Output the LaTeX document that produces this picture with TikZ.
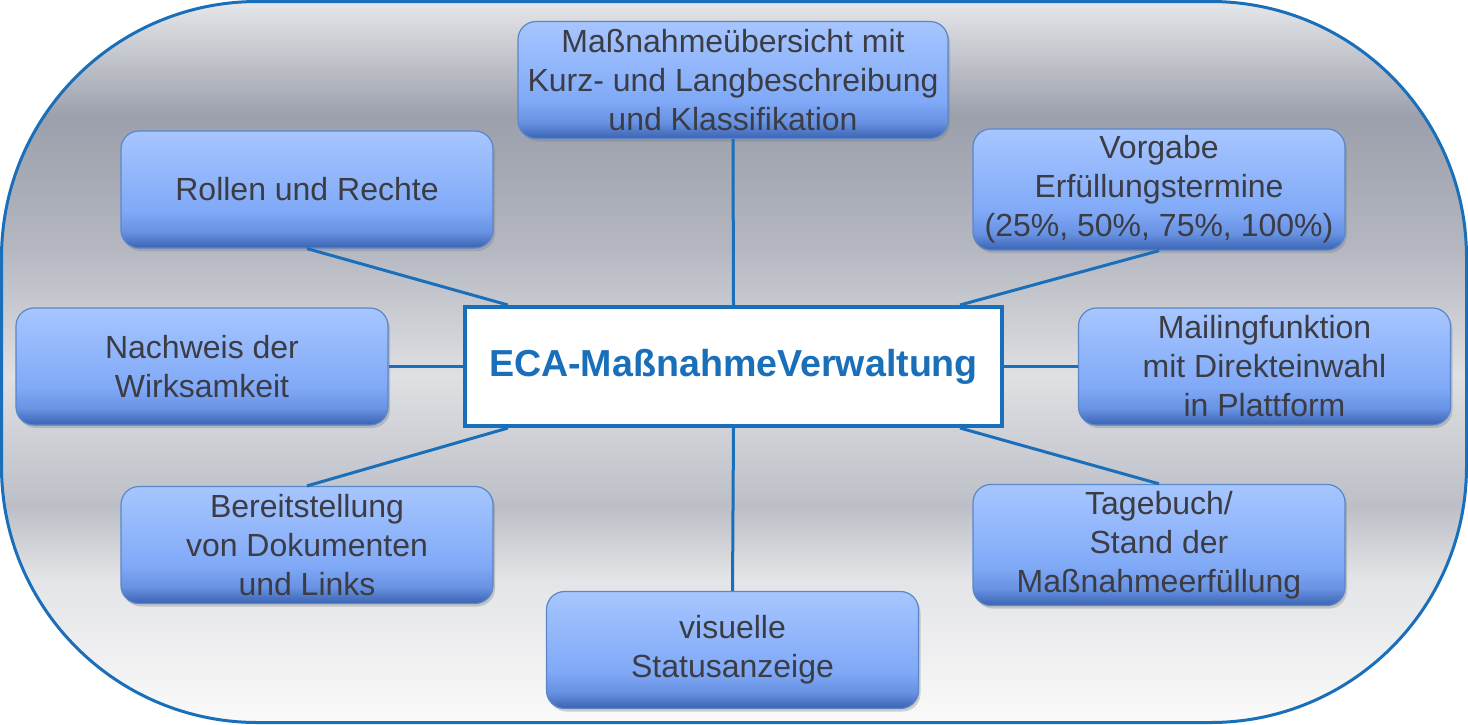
\documentclass[tikz,border=0pt]{standalone}
\usepackage{fontspec}
\setmainfont{Liberation Sans}
\usepackage{xcolor}
\usetikzlibrary{shadows, calc}

\definecolor{ecablue}{HTML}{1A6FBA}
\definecolor{boxedge}{HTML}{5B86C8}
\definecolor{boxtext}{HTML}{3C3C44}
\definecolor{boxtop}{HTML}{A7C6FF}
\definecolor{boxmid}{HTML}{80A9F7}
\definecolor{boxlow}{HTML}{6892E2}
\definecolor{boxbot}{HTML}{3A64B2}
\definecolor{bgA}{HTML}{FAFAFA}
\definecolor{bgB}{HTML}{E3E4E7}
\definecolor{bgC}{HTML}{BCBFC7}
\definecolor{bgD}{HTML}{DFE0E3}
\definecolor{bgE}{HTML}{B4B7C0}
\definecolor{bgF}{HTML}{9CA0AC}
\definecolor{bgG}{HTML}{E6E7EA}

% the path is mapped onto 25bp..75bp of the shading
\pgfdeclareverticalshading{boxshade}{100bp}{color(0bp)=(boxbot); color(25bp)=(boxbot); color(32bp)=(boxlow); color(41bp)=(boxmid); color(75bp)=(boxtop); color(100bp)=(boxtop)}
\pgfdeclareverticalshading{bgshade}{100bp}{color(0bp)=(bgA); color(25bp)=(bgA); color(35bp)=(bgB); color(40bp)=(bgC); color(49bp)=(bgD); color(58bp)=(bgE); color(67bp)=(bgF); color(75bp)=(bgG); color(100bp)=(bgG)}

\begin{document}
\begin{tikzpicture}[
        x=0.5pt, y=-0.5pt,
        frame/.style={draw=ecablue, line width=1.5pt, rounded corners=128pt, shading=bgshade},
        topic/.style={rectangle, rounded corners=9pt, draw=boxedge, line width=0.6pt, shading=boxshade,
            minimum width=186pt, minimum height=58.5pt, align=center, text=boxtext,
            font=\fontsize{16pt}{19.5pt}\selectfont,
            drop shadow={shadow xshift=1pt, shadow yshift=-1.5pt, opacity=0.35}},
        hub/.style={rectangle, draw=ecablue, line width=2pt, fill=white, minimum width=268.5pt,
            minimum height=59.5pt, text=ecablue, font=\fontsize{18.8pt}{22pt}\selectfont\bfseries},
        link/.style={draw=ecablue, line width=1.5pt}
    ]
    \useasboundingbox (0,0) rectangle (1468,724);
    \path[frame] (1.5,1.5) rectangle (1466.5,722.5);

    \node[hub] (eca) at (733.5, 366.5) {ECA-MaßnahmeVerwaltung};

    \node[topic, minimum width=215pt] (mass) at (733, 80) {Maßnahmeübersicht mit\\Kurz- und Langbeschreibung\\und Klassifikation};
    \node[topic] (rollen) at (307, 189.5) {Rollen und Rechte};
    \node[topic] (vorgabe) at (1159, 189.5) {Vorgabe\\Erfüllungstermine\\(25\%, 50\%, 75\%, 100\%)};
    \node[topic] (nachweis) at (202, 366.5) {Nachweis der\\Wirksamkeit};
    \node[topic] (mailing) at (1264.5, 366.5) {Mailingfunktion\\mit Direkteinwahl\\in Plattform};
    \node[topic] (bereit) at (307, 545) {Bereitstellung\\von Dokumenten\\und Links};
    \node[topic] (tagebuch) at (1159, 545) {Tagebuch/\\Stand der\\Maßnahmeerfüllung};
    \node[topic] (visuelle) at (732.5, 650) {visuelle\\Statusanzeige};

    % spokes to the hub
    \coordinate (nw) at ([xshift=22.5pt]eca.north west);
    \coordinate (ne) at ([xshift=-22pt]eca.north east);
    \coordinate (sw) at ([xshift=22.5pt]eca.south west);
    \coordinate (se) at ([xshift=-22pt]eca.south east);
    \foreach \a/\b in {mass.south/eca.north, visuelle.north/eca.south, nachweis.east/eca.west,
        mailing.west/eca.east, rollen.south/nw, vorgabe.south/ne, bereit.north/sw, tagebuch.north/se} {
        \draw[link] (\a) -- (\b);
    }
\end{tikzpicture}
\end{document}
